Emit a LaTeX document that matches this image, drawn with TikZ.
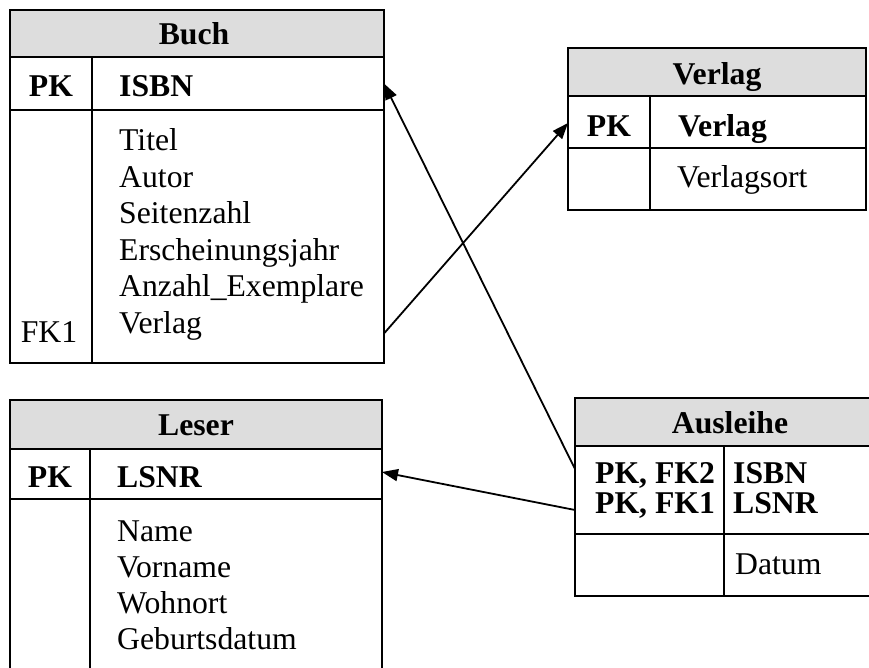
\documentclass[tikz,border=0pt]{standalone}
\usepackage{fontspec}
\setmainfont{Liberation Serif}
\usetikzlibrary{arrows.meta}
\tikzset{
  cell/.style={draw, line width=2pt, inner sep=0pt, outer sep=0pt, anchor=north west},
  headcell/.style={cell, fill=headgray},
  divider/.style={line width=2pt},
  txt/.style={inner sep=0pt, font=\fontsize{31.7}{37}\selectfont},
  btxt/.style={txt, font=\fontsize{31.7}{37}\selectfont\bfseries},
  arr/.style={line width=1.8pt, -{Triangle[length=16pt,width=12pt]}}
}
\definecolor{headgray}{HTML}{DDDDDD}
\begin{document}
\begin{tikzpicture}[x=1pt,y=-1pt]
\useasboundingbox (0,0) rectangle (869,668);
\clip (0,0) rectangle (869,668);
\fill[white] (0,0) rectangle (869,668);

% ---------- Buch ----------
\node[headcell, minimum width=374pt, minimum height=47pt] (buchhead) at (10,10) {};
\node[cell, minimum width=374pt, minimum height=53pt] (buchpk) at (10,57) {};
\node[cell, minimum width=374pt, minimum height=253pt] (buchbody) at (10,110) {};
\draw[divider] (92,57) -- (92,363);
\node[btxt, anchor=base] (buchtitle) at (194,45) {Buch};
\node[btxt, anchor=base] (buchpklab) at (51,97) {PK};
\node[btxt, anchor=base west] (buchisbn) at (119,97) {ISBN};
\foreach \t [count=\i] in {Titel,Autor,Seitenzahl,Erscheinungsjahr,Anzahl\_Exemplare,Verlag}
  \node[txt, anchor=base west] (buchattr\i) at (119,{151+36.4*(\i-1)}) {\t};
\node[txt, anchor=base] (buchfk) at (49,342) {FK1};

% ---------- Verlag ----------
\node[headcell, minimum width=298pt, minimum height=48pt] (verlaghead) at (568,48) {};
\node[cell, minimum width=298pt, minimum height=52pt] (verlagpk) at (568,96) {};
\node[cell, minimum width=298pt, minimum height=62pt] (verlagbody) at (568,148) {};
\draw[divider] (650,96) -- (650,210);
\node[btxt, anchor=base] (verlagtitle) at (717,85) {Verlag};
\node[btxt, anchor=base] (verlagpklab) at (609,137) {PK};
\node[btxt, anchor=base west] (verlagkey) at (678,137) {Verlag};
\node[txt, anchor=base west] (verlagort) at (677,188) {Verlagsort};

% ---------- Leser ----------
\node[headcell, minimum width=372pt, minimum height=49pt] (leserhead) at (10,400) {};
\node[cell, minimum width=372pt, minimum height=50pt] (leserpk) at (10,449) {};
\node[cell, minimum width=372pt, minimum height=200pt] (leserbody) at (10,499) {};
\draw[divider] (90,449) -- (90,700);
\node[btxt, anchor=base] (lesertitle) at (196,435) {Leser};
\node[btxt, anchor=base] (leserpklab) at (50,487) {PK};
\node[btxt, anchor=base west] (leserlsnr) at (117,487) {LSNR};
\foreach \t [count=\i] in {Name,Vorname,Wohnort,Geburtsdatum}
  \node[txt, anchor=base west] (leserattr\i) at (117,{541+36*(\i-1)}) {\t};

% ---------- Ausleihe ----------
\node[headcell, minimum width=320pt, minimum height=48pt] (aushead) at (575,398) {};
\node[cell, minimum width=320pt, minimum height=88pt] (auspk) at (575,446) {};
\node[cell, minimum width=320pt, minimum height=62pt] (ausbody) at (575,534) {};
\draw[divider] (724,446) -- (724,596);
\node[btxt, anchor=base] (austitle) at (730,433) {Ausleihe};
\node[btxt, anchor=base] (auspk1) at (655,483) {PK, FK2};
\node[btxt, anchor=base] (auspk2) at (655,513) {PK, FK1};
\node[btxt, anchor=base west] (ausisbn) at (733,483) {ISBN};
\node[btxt, anchor=base west] (auslsnr) at (733,513) {LSNR};
\node[txt, anchor=base west] (ausdatum) at (735,574) {Datum};

% ---------- Connectors ----------
\coordinate (ausIsbnEnd) at ([yshift=21pt]auspk.west);
\coordinate (ausLsnrEnd) at ([yshift=-20pt]auspk.west);
\coordinate (buchVerlagEnd) at ([yshift=-97pt]buchbody.east);
\draw[arr] (ausIsbnEnd) -- (buchpk.east);
\draw[arr] (ausLsnrEnd) -- ([yshift=2pt]leserpk.east);
\draw[arr] (buchVerlagEnd) -- ([yshift=-1pt]verlagpk.west);
\end{tikzpicture}
\end{document}
